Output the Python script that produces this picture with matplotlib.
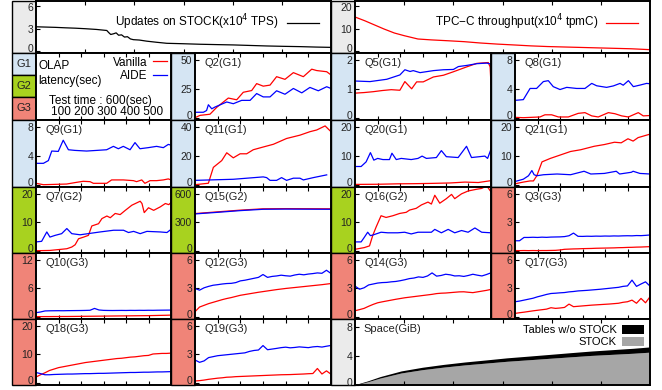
import matplotlib
matplotlib.use("Agg")
import matplotlib.pyplot as plt
from matplotlib.patches import Rectangle, Patch
from matplotlib.lines import Line2D
from matplotlib.transforms import ScaledTranslation

plt.rcParams['font.family'] = ['Liberation Sans', 'DejaVu Sans']
plt.rcParams['font.size'] = 8

W, H = 662, 390

# ---- data (time in seconds, latency in seconds) ----
t_upd = [0, 20, 40, 60, 80, 100, 123, 144, 148, 152, 158, 163, 168, 174, 180, 186,
         192, 198, 210, 225, 245, 266, 300, 334, 370, 401, 435, 469, 503, 537, 570, 600]
upd = [3.24, 3.2, 3.16, 3.1, 3.05, 2.98, 2.88, 2.74, 2.45, 2.2, 2.3, 2.42, 2.1, 2.15, 1.85, 1.9,
       1.6, 1.5, 1.45, 1.3, 1.15, 1.01, 0.95, 0.88, 0.83, 0.79, 0.72, 0.65, 0.6, 0.56, 0.5, 0.46]

t_tpc = [0, 20, 40, 59, 80, 100, 128, 155, 190, 222, 255, 290, 325, 358, 392, 426, 460, 494, 528, 562, 600]
tpc = [15.2, 13.5, 11.6, 9.8, 8.0, 6.8, 5.3, 4.9, 4.5, 4.1, 3.5, 3.0, 2.6, 2.2, 1.9, 1.7, 1.5, 1.3, 1.1, 0.9, 0.5]

t_q2_v = [0, 22, 66, 96, 147, 184, 213, 250, 272, 301, 331, 360, 397, 434, 478, 515, 537, 581, 600]
q2_v = [0.0, 2.0, 3.0, 9.0, 17.0, 15.5, 22.0, 23.5, 29.5, 27.3, 28.2, 35.5, 33.2, 39.0, 35.5, 42.0, 40.8, 39.8, 37.0]
t_q2_a = [0, 37, 51, 59, 74, 88, 140, 169, 206, 243, 272, 301, 331, 360, 397, 434, 471, 507, 544, 581, 600]
q2_a = [4.7, 4.7, 6.2, 11.2, 7.7, 9.2, 13.6, 12.1, 15.0, 15.0, 20.9, 18.0, 18.0, 23.3, 20.3, 25.3, 21.5, 26.2, 23.3, 26.8, 25.3]

t_q5_v = [0, 40, 80, 120, 160, 198, 220, 250, 272, 301, 346, 390, 434, 493, 537, 588, 596, 600]
q5_v = [0.85, 0.87, 0.9, 0.94, 0.97, 0.95, 1.25, 1.0, 1.24, 1.24, 1.41, 1.47, 1.59, 1.76, 1.88, 1.91, 1.76, 1.15]
t_q5_a = [0, 66, 140, 198, 220, 243, 257, 287, 346, 390, 434, 456, 493, 537, 581, 593, 600]
q5_a = [1.27, 1.25, 1.33, 1.48, 1.66, 1.6, 1.63, 1.56, 1.63, 1.66, 1.67, 1.77, 1.81, 1.87, 1.89, 1.87, 1.85]

t_q8_v = [0, 37, 74, 111, 133, 163, 193, 237, 281, 311, 341, 370, 415, 444, 474, 504, 548, 570, 600]
q8_v = [0.05, 0.0, 0.05, 0.1, 0.4, 0.4, 0.1, 0.1, 0.6, 0.7, 0.25, 0.1, 0.7, 0.55, 0.25, 0.1, 0.7, 0.25, 0.3]
t_q8_a = [0, 37, 67, 96, 126, 148, 170, 200, 230, 274, 311, 341, 363, 407, 437, 467, 481, 504, 526, 556, 585, 600]
q8_a = [2.4, 2.5, 4.05, 4.05, 5.0, 5.13, 4.3, 3.9, 4.2, 4.05, 4.05, 4.75, 4.42, 4.2, 4.4, 4.75, 4.5, 5.13, 4.3, 4.52, 4.75, 4.7]

t_q9_v = [0, 33, 136, 181, 210, 240, 255, 314, 336, 388, 433, 447, 470, 484, 507, 536, 566, 588, 600]
q9_v = [0.19, 0.0, 0.09, 0.33, 0.47, 0.42, 0.19, 0.19, 0.66, 0.66, 0.56, 0.42, 0.66, 0.19, 0.56, 0.56, 0.66, 0.8, 0.66]
t_q9_a = [0, 33, 55, 70, 99, 121, 144, 173, 225, 270, 314, 344, 366, 388, 418, 440, 462, 499, 536, 566, 588, 600]
q9_a = [2.96, 2.96, 3.34, 4.66, 4.61, 6.16, 4.84, 4.75, 4.66, 4.75, 4.84, 5.31, 4.98, 5.31, 4.84, 5.83, 4.98, 5.13, 5.31, 5.13, 5.58, 5.48]

t_q11_v = [0, 59, 81, 103, 118, 140, 169, 199, 228, 257, 301, 346, 404, 463, 507, 537, 574, 600]
q11_v = [0.0, 1.0, 12.0, 14.8, 16.7, 22.1, 18.6, 21.4, 21.4, 24.2, 26.1, 28.0, 32.0, 34.3, 36.7, 37.9, 40.7, 36.7]
t_q11_a = [0, 169, 301, 316, 331, 360, 382, 404, 434, 463, 478, 522, 581]
q11_a = [3.0, 3.75, 5.4, 4.9, 3.0, 3.0, 4.9, 3.0, 4.5, 4.5, 3.3, 4.9, 6.8]

t_q20_v = [0, 100, 189, 260, 337, 420, 485, 544, 600]
q20_v = [0.1, 0.15, 0.3, 0.35, 0.45, 0.6, 0.9, 0.75, 1.4]
t_q20_a = [0, 27, 49, 68, 83, 100, 123, 152, 163, 182, 204, 248, 278, 296, 315, 359, 381, 403, 455, 492, 514, 573, 585, 600]
q20_a = [6.3, 6.3, 7.9, 11.1, 8.5, 9.1, 8.7, 8.7, 10.9, 8.7, 9.1, 8.7, 9.1, 9.9, 9.1, 9.4, 11.8, 9.7, 9.4, 13.3, 9.4, 9.9, 9.1, 12.3]

t_q21_v = [0, 37, 67, 82, 97, 120, 157, 202, 247, 292, 352, 397, 442, 472, 502, 525, 547, 600]
q21_v = [0.3, 0.9, 1.3, 1.3, 3.1, 7.9, 9.1, 10.3, 11.5, 12.1, 13.3, 13.9, 14.7, 14.5, 15.9, 15.1, 16.3, 17.5]
t_q21_a = [0, 37, 60, 75, 85, 97, 127, 187, 247, 307, 337, 397, 450, 465, 517, 525, 555, 600]
q21_a = [1.1, 1.9, 3.1, 4.9, 3.45, 3.1, 3.45, 3.7, 3.45, 4.65, 3.7, 3.9, 4.65, 3.7, 4.3, 4.65, 3.9, 3.7]

t_q7_v = [0, 62, 137, 159, 174, 189, 212, 233, 248, 278, 293, 315, 330, 352, 374, 397, 426, 463, 471, 481,
          500, 523, 552, 575, 590, 600]
q7_v = [0.0, 0.1, 0.7, 1.3, 2.1, 4.2, 4.8, 5.4, 8.7, 9.5, 11.3, 12.2, 11.6, 13.1, 12.7, 14.2, 16.0, 17.4, 16.6, 13.4,
        15.1, 14.2, 15.4, 16.6, 16.2, 16.9]
t_q7_a = [0, 25, 48, 62, 85, 114, 137, 159, 196, 285, 345, 389, 411, 434, 463, 493, 552, 582, 600]
q7_a = [3.1, 3.3, 6.6, 4.8, 5.4, 6.0, 7.8, 6.0, 5.6, 6.6, 7.2, 7.2, 6.4, 6.8, 6.0, 6.8, 6.6, 6.4, 7.5]

t_q15 = [0, 100, 200, 300, 400, 500, 600]
q15_v = [392, 410, 428, 442, 444, 443, 442]
q15_a = [388, 405, 423, 437, 439, 438, 437]

t_q16_v = [0, 41, 64, 78, 93, 115, 137, 167, 197, 226, 241, 270, 293, 322, 337, 352, 374, 403, 426, 440,
           470, 499, 536, 559, 581, 600]
q16_v = [0.5, 1.1, 1.7, 5.3, 8.3, 12.3, 11.7, 12.3, 13.1, 13.5, 14.3, 14.9, 16.1, 17.1, 16.4, 19.5, 16.7, 18.3, 19.8, 18.3,
         20.0, 21.0, 21.6, 21.9, 22.8, 20.7]
t_q16_a = [0, 27, 41, 56, 68, 78, 115, 145, 189, 219, 248, 278, 307, 337, 352, 381, 411, 440, 470, 499, 529, 559, 600]
q16_a = [3.1, 3.1, 4.7, 6.5, 5.3, 5.5, 6.5, 6.3, 6.3, 6.5, 5.9, 6.5, 6.5, 6.5, 7.5, 6.3, 7.5, 6.3, 7.1, 6.5, 8.0, 6.5, 6.3]

# G3 queries sampled every 20 s
t_g3 = [0, 20, 40, 60, 80, 100, 120, 140, 160, 180, 200, 220, 240, 260, 280, 300,
        320, 340, 360, 380, 400, 420, 440, 460, 480, 500, 520, 540, 560, 580, 600]
q3_v = [0.02, 0.01, 0.02, 0.01, 0.02, 0.01, 0.02, 0.02, 0.03, 0.04, 0.08, 0.15, 0.17, 0.19, 0.20, 0.22,
        0.23, 0.24, 0.26, 0.27, 0.28, 0.29, 0.30, 0.32, 0.33, 0.35, 0.36, 0.38, 0.39, 0.41, 0.43]
q3_a = [1.05, 1.05, 1.40, 1.40, 1.42, 1.40, 1.43, 1.41, 1.44, 1.45, 1.46, 1.49, 1.58, 1.86, 1.52, 1.51,
        1.53, 1.52, 1.54, 1.53, 1.55, 1.54, 1.56, 1.55, 1.57, 1.58, 1.57, 1.60, 1.59, 1.62, 1.66]
q10_v = [0.02, 0.02, 0.03, 0.03, 0.04, 0.04, 0.05, 0.05, 0.06, 0.07, 0.08, 0.09, 0.10, 0.11, 0.12, 0.13,
         0.14, 0.15, 0.16, 0.17, 0.18, 0.19, 0.20, 0.21, 0.22, 0.23, 0.25, 0.27, 0.29, 0.31, 0.34]
q10_a = [0.85, 1.00, 1.22, 1.25, 1.26, 1.27, 1.26, 1.28, 1.29, 1.30, 1.31, 1.33, 1.36, 1.75, 1.42, 1.34,
         1.32, 1.31, 1.32, 1.33, 1.32, 1.34, 1.33, 1.35, 1.34, 1.36, 1.35, 1.37, 1.38, 1.39, 1.40]
q12_v = [0.53, 1.02, 1.20, 1.38, 1.52, 1.66, 1.80, 1.92, 2.02, 2.14, 2.26, 2.34, 2.42, 2.50, 2.58, 2.65,
         2.72, 2.79, 2.86, 2.92, 2.98, 3.03, 3.08, 3.13, 3.18, 3.23, 3.28, 3.33, 3.38, 3.44, 3.50]
q12_a = [2.98, 2.80, 3.05, 3.20, 3.32, 3.38, 3.45, 3.50, 3.52, 3.60, 3.78, 3.85, 3.95, 4.05, 4.15, 4.45,
         4.15, 4.25, 4.30, 4.38, 4.32, 4.28, 4.40, 4.48, 4.42, 4.50, 4.55, 4.62, 4.58, 4.90, 4.56]
q14_v = [0.63, 0.75, 0.88, 1.10, 1.30, 1.47, 1.57, 1.66, 1.75, 1.84, 1.92, 2.00, 2.06, 2.12, 2.18, 2.24,
         2.30, 2.36, 2.44, 2.48, 2.50, 2.54, 2.58, 2.62, 2.63, 2.58, 2.54, 2.62, 2.70, 2.78, 2.88]
q14_a = [3.23, 2.90, 3.05, 3.35, 3.45, 3.55, 3.60, 3.62, 3.68, 3.72, 3.80, 3.90, 4.02, 4.08, 4.20, 4.15,
         4.30, 4.62, 4.28, 4.35, 4.48, 4.42, 4.30, 4.32, 4.25, 4.35, 4.48, 4.38, 4.30, 4.45, 4.63]
q17_v = [0.35, 0.42, 0.48, 0.55, 0.62, 0.68, 0.74, 0.80, 0.95, 0.88, 0.92, 0.98, 1.33, 1.06, 1.10, 1.14,
         1.18, 1.22, 1.25, 1.28, 1.31, 1.34, 1.38, 1.42, 1.52, 1.58, 1.75, 1.42, 1.93, 1.47, 2.10]
q17_a = [1.58, 1.65, 1.75, 1.85, 1.95, 2.10, 2.22, 2.35, 2.45, 2.48, 2.52, 2.55, 2.62, 2.66, 2.72, 2.75,
         2.78, 2.82, 2.86, 2.90, 2.95, 3.00, 3.05, 3.10, 3.20, 3.25, 3.86, 3.20, 3.45, 3.68, 3.23]
q18_v = [2.0, 2.8, 3.5, 4.3, 4.8, 5.3, 5.6, 5.9, 6.2, 6.5, 6.8, 7.1, 7.3, 7.5, 7.7, 7.9,
         8.1, 8.3, 8.5, 8.6, 8.8, 9.0, 9.1, 9.3, 9.5, 9.6, 10.1, 10.2, 10.3, 10.3, 10.4]
q18_a = [3.6, 3.2, 2.8, 2.8, 2.9, 2.95, 3.0, 3.05, 3.05, 3.1, 3.15, 3.2, 3.2, 3.25, 3.3, 3.3,
         3.35, 3.4, 3.45, 3.5, 3.55, 3.6, 3.6, 3.65, 3.7, 3.7, 3.75, 3.8, 3.8, 3.85, 3.9]
q19_v = [0.18, 0.22, 0.28, 0.36, 0.42, 0.48, 0.52, 0.58, 0.60, 0.64, 0.66, 0.68, 0.70, 0.72, 0.74, 0.76,
         0.78, 0.80, 0.82, 0.84, 0.85, 0.86, 0.88, 0.90, 0.92, 0.95, 0.97, 1.50, 0.92, 1.25, 0.90]
q19_a = [2.40, 2.15, 2.30, 2.65, 2.75, 2.85, 2.90, 2.95, 3.00, 3.05, 3.10, 3.15, 3.30, 3.40, 3.45, 3.92,
         3.48, 3.55, 3.62, 3.70, 3.75, 3.68, 3.72, 3.78, 3.74, 3.70, 3.78, 3.82, 3.76, 3.85, 3.93]

t_space = [0, 26, 51, 94, 137, 180, 223, 266, 309, 352, 394, 437, 480, 523, 566, 600]
space_stock = [0.0, 0.45, 0.95, 1.65, 2.1, 2.45, 2.75, 3.0, 3.25, 3.45, 3.65, 3.85, 4.05, 4.2, 4.35, 4.5]
space_other = [0.05, 0.12, 0.2, 0.28, 0.33, 0.37, 0.4, 0.43, 0.47, 0.5, 0.53, 0.57, 0.6, 0.64, 0.68, 0.72]

XTICKS = [100, 200, 300, 400, 500]
GROUP_COLOR = {'G1': '#d5e5f3', 'G2': '#a8d21f', 'G3': '#f08478', 'none': '#ebebeb'}

# name, row, col, ymax, yticks, vanilla(t, v), aide(t, v)
panels = [
    ('Q2(G1)', 1, 1, 50, [0, 25, 50], (t_q2_v, q2_v), (t_q2_a, q2_a)),
    ('Q5(G1)', 1, 2, 2, [0, 1, 2], (t_q5_v, q5_v), (t_q5_a, q5_a)),
    ('Q8(G1)', 1, 3, 8, [0, 4, 8], (t_q8_v, q8_v), (t_q8_a, q8_a)),
    ('Q9(G1)', 2, 0, 8, [0, 4, 8], (t_q9_v, q9_v), (t_q9_a, q9_a)),
    ('Q11(G1)', 2, 1, 40, [0, 20, 40], (t_q11_v, q11_v), (t_q11_a, q11_a)),
    ('Q20(G1)', 2, 2, 20, [0, 10, 20], (t_q20_v, q20_v), (t_q20_a, q20_a)),
    ('Q21(G1)', 2, 3, 20, [0, 10, 20], (t_q21_v, q21_v), (t_q21_a, q21_a)),
    ('Q7(G2)', 3, 0, 20, [0, 10, 20], (t_q7_v, q7_v), (t_q7_a, q7_a)),
    ('Q15(G2)', 3, 1, 600, [0, 300, 600], (t_q15, q15_v), (t_q15, q15_a)),
    ('Q16(G2)', 3, 2, 20, [0, 10, 20], (t_q16_v, q16_v), (t_q16_a, q16_a)),
    ('Q3(G3)', 3, 3, 6, [0, 3, 6], (t_g3, q3_v), (t_g3, q3_a)),
    ('Q10(G3)', 4, 0, 12, [0, 6, 12], (t_g3, q10_v), (t_g3, q10_a)),
    ('Q12(G3)', 4, 1, 6, [0, 3, 6], (t_g3, q12_v), (t_g3, q12_a)),
    ('Q14(G3)', 4, 2, 6, [0, 3, 6], (t_g3, q14_v), (t_g3, q14_a)),
    ('Q17(G3)', 4, 3, 6, [0, 3, 6], (t_g3, q17_v), (t_g3, q17_a)),
    ('Q18(G3)', 5, 0, 20, [0, 10, 20], (t_g3, q18_v), (t_g3, q18_a)),
    ('Q19(G3)', 5, 1, 6, [0, 3, 6], (t_g3, q19_v), (t_g3, q19_a)),
]

# pixel layout
STRIP_X = [12, 171, 331, 491]
PLOT_X0 = [36, 195, 355, 515]
PLOT_X1 = [171, 331, 491, 650]
ROW_Y = [1, 53, 120, 187, 253, 319, 385]

fig = plt.figure(figsize=(W / 100, H / 100), dpi=100)
up = ScaledTranslation(0, 2.5 / 100, fig.dpi_scale_trans)
down = ScaledTranslation(0, -0.5 / 100, fig.dpi_scale_trans)


def add_strip(x0, y0, x1, y1, color):
    fig.add_artist(Rectangle((x0 / W, 1 - y1 / H), (x1 - x0) / W, (y1 - y0) / H,
                             transform=fig.transFigure, facecolor=color,
                             edgecolor='black', linewidth=1.0, zorder=-5))


def add_plot(x0, y0, x1, y1):
    return fig.add_axes([x0 / W, 1 - y1 / H, (x1 - x0) / W, (y1 - y0) / H])


def style(ax, ymax, yticks, lo=-0.04, hi=1.12):
    ax.set_xlim(0, 600)
    ax.set_ylim(lo * ymax, hi * ymax)
    ax.set_xticks(XTICKS)
    ax.set_xticklabels([])
    ax.set_yticks(yticks)
    ax.set_yticklabels([str(v) for v in yticks])
    ax.tick_params(axis='x', direction='in', top=True, bottom=True, length=3, width=0.8)
    ax.tick_params(axis='y', direction='in', length=3, width=0.8, pad=2,
                   labelsize=7.5, labelcolor='#222222')
    for sp in ax.spines.values():
        sp.set_linewidth(1.4)
    labels = ax.get_yticklabels()
    # bottom label sits a little above its tick, top label a little below
    labels[0].set_transform(labels[0].get_transform() + up)
    labels[-1].set_transform(labels[-1].get_transform() + down)


# top row: updates on STOCK and TPC-C throughput
add_strip(12, ROW_Y[0], 36, ROW_Y[1], GROUP_COLOR['none'])
ax = add_plot(36, ROW_Y[0], 331, ROW_Y[1])
ax.plot(t_upd, upd, color='black', linewidth=0.9, label='Updates on STOCK(x10$^4$ TPS)')
style(ax, 6, [0, 3, 6], lo=-0.05, hi=1.12)
ax.legend(loc='upper right', frameon=False, markerfirst=False, fontsize=8.5,
          handlelength=2.7, handletextpad=0.7, borderaxespad=0.6)

add_strip(331, ROW_Y[0], 355, ROW_Y[1], GROUP_COLOR['none'])
ax = add_plot(355, ROW_Y[0], 650, ROW_Y[1])
ax.plot(t_tpc, tpc, color='red', linewidth=0.9, label='TPC\u2212C throughput(x10$^4$ tpmC)')
style(ax, 20, [0, 10, 20], lo=-0.05, hi=1.12)
ax.legend(loc='upper right', frameon=False, markerfirst=False, fontsize=8.5,
          handlelength=2.7, handletextpad=0.7, borderaxespad=0.6)

# legend / explanation panel
y0, y1 = ROW_Y[1], ROW_Y[2]
add_strip(12, y0, 36, 75, GROUP_COLOR['G1'])
add_strip(12, 75, 36, 97, GROUP_COLOR['G2'])
add_strip(12, 97, 36, y1, GROUP_COLOR['G3'])
for g, yc in [('G1', 64), ('G2', 86), ('G3', 108)]:
    fig.text(24 / W, 1 - yc / H, g, ha='center', va='center', fontsize=8, color='#222222')
ax = add_plot(36, y0, 171, y1)
ax.set_xlim(0, 600)
ax.set_ylim(0, 1)
ax.set_xticks(XTICKS)
ax.set_xticklabels([])
ax.set_yticks([])
ax.tick_params(axis='x', direction='in', top=True, bottom=True, length=3, width=0.8)
for sp in ax.spines.values():
    sp.set_linewidth(1.4)
ax.text(0.02, 0.80, 'OLAP', transform=ax.transAxes, fontsize=8.5, va='center')
ax.text(0.02, 0.58, 'latency(sec)', transform=ax.transAxes, fontsize=8.5, va='center')
ax.text(0.48, 0.29, 'Test time : 600(sec)', transform=ax.transAxes, fontsize=8.5, ha='center', va='center')
ax.text(0.53, 0.12, '100 200 300 400 500', transform=ax.transAxes, fontsize=8.5, ha='center', va='center')
ax.legend(handles=[Line2D([], [], color='red', linewidth=0.9), Line2D([], [], color='blue', linewidth=0.9)],
          labels=['Vanilla', 'AIDE'], loc='upper right', frameon=False, markerfirst=False,
          fontsize=8.5, handlelength=1.2, handletextpad=0.5, labelspacing=0.1,
          borderaxespad=0.2, borderpad=0.1)

# query panels
for name, row, col, ymax, yticks, van, aide in panels:
    group = name[-3:-1]
    add_strip(STRIP_X[col], ROW_Y[row], PLOT_X0[col], ROW_Y[row + 1], GROUP_COLOR[group])
    ax = add_plot(PLOT_X0[col], ROW_Y[row], PLOT_X1[col], ROW_Y[row + 1])
    ax.plot(van[0], van[1], color='red', linewidth=0.9)
    ax.plot(aide[0], aide[1], color='blue', linewidth=0.9)
    style(ax, ymax, yticks)
    ax.text(0.07, 0.92, name, transform=ax.transAxes, fontsize=8, va='top', color='#222222')

# space panel
add_strip(331, ROW_Y[5], 355, ROW_Y[6], GROUP_COLOR['none'])
ax = add_plot(355, ROW_Y[5], 650, ROW_Y[6])
space_total = [a + b for a, b in zip(space_stock, space_other)]
ax.fill_between(t_space, 0, space_stock, color='#a6a6a6', linewidth=0)
ax.fill_between(t_space, space_stock, space_total, color='black', linewidth=0)
style(ax, 8, [0, 4, 8], lo=0.0, hi=1.13)
ax.text(0.03, 0.92, 'Space(GiB)', transform=ax.transAxes, fontsize=8, va='top', color='#222222')
ax.legend(handles=[Patch(facecolor='black'), Patch(facecolor='#a6a6a6')],
          labels=['Tables w/o STOCK', 'STOCK'], loc='upper right', frameon=False, markerfirst=False,
          fontsize=8, handlelength=2.0, handleheight=0.9, handletextpad=0.5, labelspacing=0.15,
          borderaxespad=0.3, borderpad=0.2)

fig.savefig('out.png', dpi=100)
